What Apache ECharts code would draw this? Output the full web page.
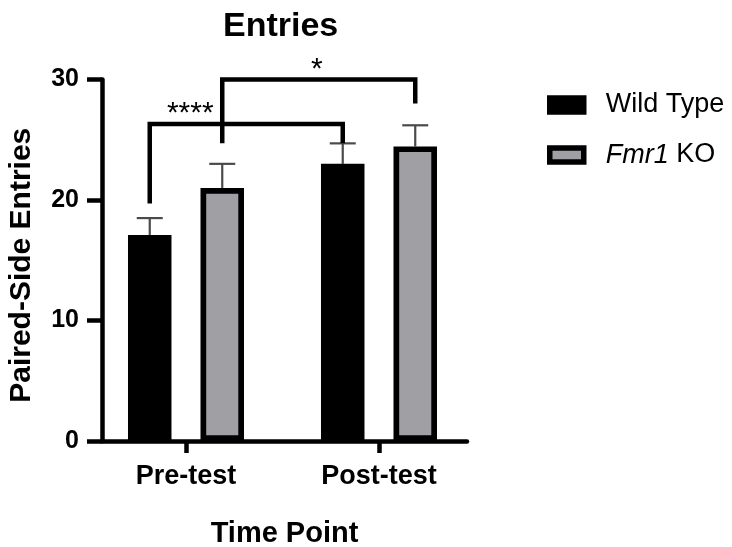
<!DOCTYPE html>
<html>
<head>
<meta charset="utf-8">
<style>
  html, body { margin: 0; padding: 0; background: #fff; }
  #chart { width: 732px; height: 547px; }
</style>
<script src="https://cdn.jsdelivr.net/npm/echarts@6/dist/echarts.min.js"></script>
</head>
<body>
<div id="chart"></div>
<script>
const categories = ['Pre-test', 'Post-test']
const groups = ['Wild Type', 'Fmr1 KO']
const wildType = [17.1, 23.0]
const wildTypeTop = [18.5, 24.7]
const fmr1KO = [21.0, 24.45]
const fmr1KOTop = [23.0, 26.2]
const yTicks = [0, 10, 20, 30]
// [fromCategory, fromGroup, toCategory, toGroup, top, leftFoot, rightFoot]
const brackets = [
    [0, 0, 1, 0, 26.3, 19.7, 24.7],
    [0, 1, 1, 1, 30, 24.7, 28.0]
]
const bracketLabels = ['****', '*']

const font = 'Liberation Sans, Arial, sans-serif'
const gray = '#a09fa4'
const groupOffset = 36.25 // px from category centre to bar centre
const labelAt = [0.21, 0.49]

const myChart = echarts.init(document.getElementById('chart'))

const errData = []
wildType.forEach((v, i) => errData.push([i, 0, v, wildTypeTop[i]]))
fmr1KO.forEach((v, i) => errData.push([i, 1, v, fmr1KOTop[i]]))

const side = g => (g === 0 ? -groupOffset : groupOffset)

const option = {
    animation: false,
    title: {
        text: 'Entries',
        left: 218,
        top: 5,
        textStyle: { fontFamily: font, fontSize: 34, fontWeight: 'bold', color: '#000' }
    },
    legend: {
        orient: 'vertical',
        left: 542,
        top: 85,
        itemWidth: 34,
        itemHeight: 14,
        itemGap: 20,
        icon: 'rect',
        itemStyle: { borderColor: '#000', borderWidth: 5.5 },
        data: groups,
        formatter: name => (name === 'Fmr1 KO' ? '{i|Fmr1} KO' : name),
        textStyle: {
            fontFamily: font, fontSize: 27, color: '#000', lineHeight: 30,
            padding: [0, 0, 0, 17],
            rich: { i: { fontFamily: font, fontSize: 27, fontStyle: 'italic', color: '#000', lineHeight: 30 } }
        }
    },
    grid: { left: 102, top: 79.5, width: 365, height: 361.5, containLabel: false, outerBoundsMode: 'none' },
    xAxis: {
        type: 'value',
        min: -0.4352,
        max: 1.456,
        splitLine: { show: false },
        axisLine: { show: true, onZero: false, lineStyle: { color: '#000', width: 4.5 } },
        axisTick: { show: true, customValues: [0, 1], length: 12, lineStyle: { color: '#000', width: 4.5 } },
        axisLabel: {
            customValues: [0, 1],
            formatter: v => categories[Math.round(v)] || '',
            margin: 22,
            fontFamily: font, fontSize: 27, fontWeight: 'bold', color: '#000'
        },
        name: 'Time Point',
        nameLocation: 'middle',
        nameGap: 78,
        nameTextStyle: { fontFamily: font, fontSize: 29, fontWeight: 'bold', color: '#000' }
    },
    yAxis: {
        type: 'value',
        min: yTicks[0],
        max: yTicks[yTicks.length - 1],
        interval: yTicks[1] - yTicks[0],
        splitLine: { show: false },
        axisLine: { show: true, onZero: false, lineStyle: { color: '#000', width: 4.5 } },
        axisTick: { show: true, length: 15, lineStyle: { color: '#000', width: 4.5 } },
        axisLabel: { margin: 23, fontFamily: font, fontSize: 25, fontWeight: 'bold', color: '#000' },
        name: 'Paired-Side Entries',
        nameLocation: 'middle',
        nameGap: 65,
        nameTextStyle: { fontFamily: font, fontSize: 30, fontWeight: 'bold', color: '#000', padding: [0, 10, 0, 0] }
    },
    series: [
        {
            type: 'bar',
            name: groups[0],
            data: wildType.map((v, i) => [i, v]),
            barWidth: 43.5,
            barGap: '66.7%',
            itemStyle: { color: '#000', borderColor: '#000', borderWidth: 5.7 },
            z: 3
        },
        {
            type: 'bar',
            name: groups[1],
            data: fmr1KO.map((v, i) => [i, v]),
            barWidth: 43.5,
            barGap: '66.7%',
            itemStyle: { color: gray, borderColor: '#000', borderWidth: 5.7 },
            z: 3
        },
        {
            type: 'custom',
            name: 'err',
            z: 1,
            clip: false,
            data: errData,
            renderItem: function (params, api) {
                const base = api.coord([api.value(0), api.value(2)])
                const top = api.coord([api.value(0), api.value(3)])
                const x = base[0] + side(api.value(1))
                const st = { stroke: '#4a4a4a', lineWidth: 2.2 }
                return {
                    type: 'group',
                    children: [
                        { type: 'line', shape: { x1: x, y1: base[1], x2: x, y2: top[1] }, style: st },
                        { type: 'line', shape: { x1: x - 13, y1: top[1], x2: x + 13, y2: top[1] }, style: st }
                    ]
                }
            }
        },
        {
            type: 'custom',
            name: 'sig',
            z: 4,
            clip: false,
            data: brackets,
            renderItem: function (params, api) {
                const xa = api.coord([api.value(0), 0])[0] + side(api.value(1))
                const xb = api.coord([api.value(2), 0])[0] + side(api.value(3))
                const yT = api.coord([0, api.value(4)])[1]
                const yL = api.coord([0, api.value(5)])[1]
                const yR = api.coord([0, api.value(6)])[1]
                const i = params.dataIndex
                return {
                    type: 'group',
                    children: [
                        {
                            type: 'polyline',
                            shape: { points: [[xa, yL], [xa, yT], [xb, yT], [xb, yR]] },
                            style: { stroke: '#000', lineWidth: 4.5, fill: null, lineJoin: 'miter', lineCap: 'butt' }
                        },
                        {
                            type: 'text',
                            x: xa + (xb - xa) * labelAt[i],
                            y: yT - 10,
                            style: {
                                text: bracketLabels[i], fill: '#000',
                                font: '30px ' + font,
                                align: 'center', verticalAlign: 'middle'
                            }
                        }
                    ]
                }
            }
        }
    ]
}
myChart.setOption(option)
</script>
</body>
</html>
